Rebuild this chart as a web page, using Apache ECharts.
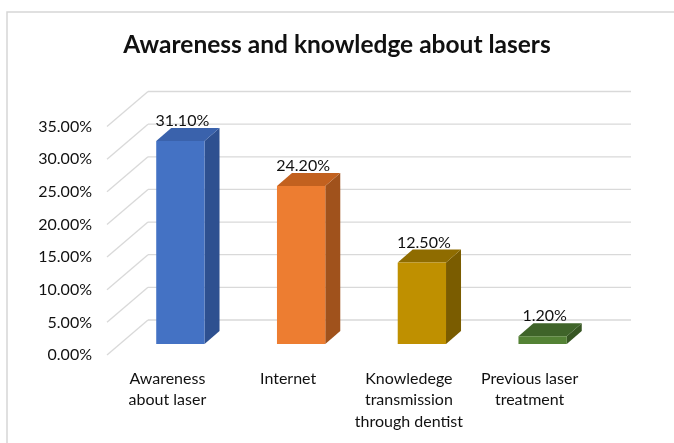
<!DOCTYPE html>
<html>
<head>
<meta charset="utf-8">
<script src="https://cdn.jsdelivr.net/npm/echarts@6/dist/echarts.min.js"></script>
<style>html,body{margin:0;padding:0;background:#fff;}#c{width:674px;height:443px;}</style>
</head>
<body>
<div id="c"></div>
<script>
var titleText = 'Awareness and knowledge about lasers';
var categories = ['Awareness\nabout laser', 'Internet', 'Knowledege\ntransmission\nthrough dentist', 'Previous laser\ntreatment'];
var values = [31.1, 24.2, 12.5, 1.2];
var yTicks = [0, 5, 10, 15, 20, 25, 30, 35];
var faceColors = ['#4472C4', '#ED7D31', '#BF9000', '#548235'];
var sideColors = ['#2E5090', '#A0521C', '#7A5C00', '#375623'];
var topColors = ['#3A62AC', '#C2611F', '#8F6C00', '#3F6429'];

var FRONT = [-13, 11];   // front wall plane offset from bar plane
var BACK = [28, -24];    // back wall plane offset from bar plane
var BAR_D = [15, -13];   // bar depth
var FONT = 'Lato, "Liberation Sans", sans-serif';

var chart = echarts.init(document.getElementById('c'));

function wallItem(params, api) {
  var t = api.value(1);
  var y = api.coord([0, t])[1];
  var cs = params.coordSys;
  var lineStyle = {stroke: '#D9D9D9', lineWidth: 1.3};
  return {
    type: 'group',
    children: [
      {type: 'line', shape: {x1: cs.x + BACK[0], y1: y + BACK[1], x2: cs.x + cs.width + BACK[0], y2: y + BACK[1]}, style: lineStyle},
      {type: 'line', shape: {x1: cs.x + FRONT[0], y1: y + FRONT[1], x2: cs.x + BACK[0], y2: y + BACK[1]}, style: lineStyle}
    ]
  };
}

function barItem(params, api) {
  var i = api.value(0), v = api.value(1);
  var p0 = api.coord([i, 0]), p1 = api.coord([i, v]);
  var bw = api.size([1, 0])[0] * 0.4;
  var x0 = p0[0] - bw / 2, x1 = p0[0] + bw / 2, yb = p0[1], yt = p1[1];
  var dx = BAR_D[0], dy = BAR_D[1];
  var idx = params.dataIndex;
  return {
    type: 'group',
    children: [
      {type: 'polygon', shape: {points: [[x1, yb], [x1 + dx, yb + dy], [x1 + dx, yt + dy], [x1, yt]]}, style: {fill: sideColors[idx]}},
      {type: 'polygon', shape: {points: [[x0, yt], [x1, yt], [x1 + dx, yt + dy], [x0 + dx, yt + dy]]}, style: {fill: topColors[idx]}},
      {type: 'rect', shape: {x: x0, y: yt, width: bw, height: yb - yt}, style: {fill: faceColors[idx]}},
      {type: 'text', x: p0[0] + 2, y: yt + dy - 7, style: {text: v.toFixed(2) + '%', font: '16px ' + FONT, fill: '#111111', align: 'center', verticalAlign: 'middle'}}
    ]
  };
}

var gridTop = 115.5, gridH = 228.5, gridLeft = 120, gridW = 483;

chart.setOption({
  animation: false,
  backgroundColor: '#FFFFFF',
  title: {
    text: titleText,
    left: 'center',
    top: 28,
    textStyle: {fontFamily: FONT, fontWeight: 'bold', fontSize: 24.5, color: '#111111'}
  },
  graphic: [{
    type: 'rect', shape: {x: 7, y: 12, width: 720, height: 500},
    style: {fill: 'none', stroke: '#D6D6D6', lineWidth: 1.5}, silent: true, z: -10
  }],
  grid: [
    {left: gridLeft, top: gridTop, width: gridW, height: gridH},
    {left: gridLeft + FRONT[0], top: gridTop + FRONT[1], width: gridW, height: gridH}
  ],
  xAxis: [
    {type: 'category', gridIndex: 0, data: categories, axisLine: {show: false}, axisTick: {show: false}, axisLabel: {show: false}, splitLine: {show: false}},
    {type: 'category', gridIndex: 1, data: categories, axisLine: {show: false}, axisTick: {show: false}, splitLine: {show: false},
      axisLabel: {margin: 13, fontFamily: FONT, fontSize: 16, color: '#111111', lineHeight: 21.5, interval: 0}}
  ],
  yAxis: [
    {type: 'value', gridIndex: 0, min: 0, max: 35, interval: 5, axisLine: {show: false}, axisTick: {show: false}, axisLabel: {show: false}, splitLine: {show: false}},
    {type: 'value', gridIndex: 1, min: 0, max: 35, interval: 5, axisLine: {show: false}, axisTick: {show: false}, splitLine: {show: false},
      axisLabel: {margin: 15, fontFamily: FONT, fontSize: 16, color: '#111111', formatter: function (v) { return v.toFixed(2) + '%'; }}}
  ],
  series: [
    {type: 'custom', xAxisIndex: 0, yAxisIndex: 0, renderItem: wallItem, data: yTicks.map(function (t) { return [0, t]; }), z: 1, silent: true},
    {type: 'custom', xAxisIndex: 0, yAxisIndex: 0, renderItem: barItem, data: values.map(function (v, i) { return [i, v]; }), z: 5, silent: true}
  ]
});
</script>
</body>
</html>
